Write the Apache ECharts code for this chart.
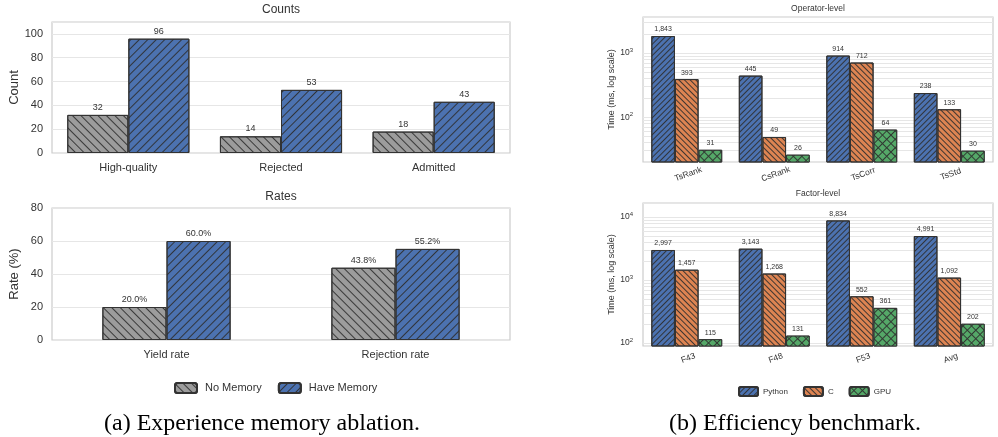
<!DOCTYPE html>
<html><head><meta charset="utf-8">
<script src="https://cdn.jsdelivr.net/npm/echarts@6/dist/echarts.min.js"></script>
<style>html,body{margin:0;padding:0;background:#fff}#c{width:998px;height:437px}</style>
</head><body><div id="c"></div>
<script>
// ---- data ----
const countCategories = ['High-quality', 'Rejected', 'Admitted'];
const countsNoMemory = [32, 14, 18];
const countsHaveMemory = [96, 53, 43];
const rateCategories = ['Yield rate', 'Rejection rate'];
const ratesNoMemory = [20.0, 43.8];
const ratesHaveMemory = [60.0, 55.2];
const operatorCategories = ['TsRank', 'CsRank', 'TsCorr', 'TsStd'];
const operatorPython = [1843, 445, 914, 238];
const operatorC = [393, 49, 712, 133];
const operatorGPU = [31, 26, 64, 30];
const factorCategories = ['F43', 'F48', 'F53', 'Avg'];
const factorPython = [2997, 3143, 8834, 4991];
const factorC = [1457, 1268, 552, 1092];
const factorGPU = [115, 131, 361, 202];
const countTicks = [0, 20, 40, 60, 80, 100];
const rateTicks = [0, 20, 40, 60, 80];
const operatorMinorTicks = [30, 40, 50, 60, 70, 80, 90, 200, 300, 400, 500, 600, 700, 800, 900, 2000, 3000];
const factorMinorTicks = [200, 300, 400, 500, 600, 700, 800, 900, 2000, 3000, 4000, 5000, 6000, 7000, 8000, 9000];

// ---- style ----
const FONT = 'Liberation Sans';
const TXT = '#333333';
const GRIDC = '#e6e6e6';
const FRAME = '#cccccc';
const C_GRAY = '#9c9c9c', C_BLUE = '#4c72b0', C_ORANGE = '#dd8452', C_GREEN = '#55a868';
const HATCH = 'rgba(45,45,45,0.9)';

function hatch(rot, period, w) {
  return { symbol: 'rect', symbolSize: 1, dashArrayX: [1, 0], dashArrayY: [w, period - w], rotation: rot, color: HATCH };
}
function cross(fill, period) {
  return { symbol: 'rect', symbolSize: 1, dashArrayX: [period - 1, 1], dashArrayY: [period - 1, 1], rotation: Math.PI / 4, color: fill, backgroundColor: HATCH };
}
const SLASH = -Math.PI / 4, BACK = Math.PI / 4;

function bar(name, data, idx, color, decal, fmt, fs, extra) {
  return Object.assign({
    name: name, type: 'bar', data: data, xAxisIndex: idx, yAxisIndex: idx, barGap: '0%',
    itemStyle: { color: color, borderColor: '#333', borderWidth: 1, decal: decal },
    label: { show: true, position: 'top', distance: 3, fontFamily: FONT, fontSize: fs, color: TXT, formatter: fmt },
    emphasis: { disabled: true }
  }, extra || {});
}
const fmtInt = p => String(p.value);
const fmtPct = p => p.value.toFixed(1) + '%';
const fmtK = p => Number(p.value).toLocaleString('en-US');

function minorLines(idx, ticks) {
  return {
    type: 'line', data: [], xAxisIndex: idx, yAxisIndex: idx, z: 1, silent: true,
    markLine: { silent: true, z: 1, symbol: 'none', animation: false, label: { show: false },
      lineStyle: { color: GRIDC, width: 1, type: 'solid' },
      data: ticks.map(v => ({ yAxis: v })) }
  };
}
function logLabel(v) {
  const e = Math.log10(v), r = Math.round(e);
  return Math.abs(e - r) < 1e-6 ? '10{s|' + r + '}' : '';
}

const grids = [
  { left: 52, top: 22, width: 458, height: 131 },
  { left: 52, top: 208, width: 458, height: 132 },
  { left: 643, top: 17, width: 350, height: 145 },
  { left: 643, top: 203, width: 350, height: 143 }
].map(g => Object.assign({ show: true, borderColor: FRAME, borderWidth: 1.2, backgroundColor: '#fff' }, g));

const leftX = (i, cats) => ({
  type: 'category', gridIndex: i, data: cats, axisLine: { show: false }, axisTick: { show: false },
  axisLabel: { fontFamily: FONT, fontSize: 11, color: TXT, margin: 9 }, splitLine: { show: false }
});
const rightX = (i, cats) => ({
  type: 'category', gridIndex: i, data: cats, axisLine: { show: false }, axisTick: { show: false },
  axisLabel: { fontFamily: FONT, fontSize: 8.5, color: TXT, margin: 8, rotate: 20, align: 'center', verticalAlign: 'top' },
  splitLine: { show: false }
});
const leftY = (i, name, ticks, max) => ({
  type: 'value', gridIndex: i, min: 0, max: max, interval: 20, name: name, nameLocation: 'middle', nameGap: 31,
  nameTextStyle: { fontFamily: FONT, fontSize: 13, color: TXT },
  axisLine: { show: false }, axisTick: { show: false },
  axisLabel: { fontFamily: FONT, fontSize: 11, color: TXT, margin: 9, formatter: v => ticks.indexOf(v) >= 0 ? String(v) : '' },
  splitLine: { lineStyle: { color: GRIDC, width: 1 } }
});
const rightY = (i, min, max) => ({
  type: 'log', logBase: 10, gridIndex: i, min: min, max: max, name: 'Time (ms, log scale)', nameLocation: 'middle', nameGap: 26,
  nameTextStyle: { fontFamily: FONT, fontSize: 9, color: TXT },
  axisLine: { show: false }, axisTick: { show: false },
  axisLabel: { fontFamily: FONT, fontSize: 8.5, color: TXT, margin: 10, formatter: logLabel,
    rich: { s: { fontFamily: FONT, fontSize: 6, color: TXT, padding: [0, 0, 5, 0] } } },
  splitLine: { lineStyle: { color: GRIDC, width: 1 } }
});

function txt(x, y, text, size, family, color) {
  return { type: 'text', x: x, y: y, silent: true,
    style: { text: text, fontSize: size, fontFamily: family || FONT, fill: color || TXT,
      textAlign: 'center', textVerticalAlign: 'middle', align: 'center', verticalAlign: 'middle' } };
}

const option = {
  animation: false,
  textStyle: { fontFamily: FONT },
  grid: grids,
  xAxis: [leftX(0, countCategories), leftX(1, rateCategories), rightX(2, operatorCategories), rightX(3, factorCategories)],
  yAxis: [leftY(0, 'Count', countTicks, 110), leftY(1, 'Rate (%)', rateTicks, 80), rightY(2, 20, 3650), rightY(3, 89.6, 16700)],
  legend: [
    { data: ['No Memory', 'Have Memory'], left: 174, top: 382, itemWidth: 22, itemHeight: 10, itemGap: 16, padding: 0,
      textStyle: { fontFamily: FONT, fontSize: 11, color: TXT, padding: [0, 0, 0, 3] }, selectedMode: false },
    { data: ['Python', 'C', 'GPU'], left: 738, top: 386, itemWidth: 19, itemHeight: 9, itemGap: 15, padding: 0,
      textStyle: { fontFamily: FONT, fontSize: 8, color: TXT }, selectedMode: false }
  ],
  graphic: [
    txt(281, 10, 'Counts', 12),
    txt(281, 197, 'Rates', 12),
    txt(818, 9, 'Operator-level', 8.5),
    txt(818, 194, 'Factor-level', 8.5),
    txt(262, 424, '(a) Experience memory ablation.', 24, 'Liberation Serif', '#000'),
    txt(795, 424, '(b) Efficiency benchmark.', 24, 'Liberation Serif', '#000')
  ],
  series: [
    bar('No Memory', countsNoMemory, 0, C_GRAY, hatch(BACK, 6, 1), fmtInt, 9),
    bar('Have Memory', countsHaveMemory, 0, C_BLUE, hatch(SLASH, 6, 1), fmtInt, 9, { barCategoryGap: '20%' }),
    bar('No Memory', ratesNoMemory, 1, C_GRAY, hatch(BACK, 6, 1), fmtPct, 9),
    bar('Have Memory', ratesHaveMemory, 1, C_BLUE, hatch(SLASH, 6, 1), fmtPct, 9, { barCategoryGap: '44%' }),
    minorLines(2, operatorMinorTicks),
    bar('Python', operatorPython, 2, C_BLUE, hatch(SLASH, 3.5, 0.9), fmtK, 7),
    bar('C', operatorC, 2, C_ORANGE, hatch(BACK, 3.5, 0.9), fmtK, 7),
    bar('GPU', operatorGPU, 2, C_GREEN, cross(C_GREEN, 5.7), fmtK, 7, { barCategoryGap: '19%' }),
    minorLines(3, factorMinorTicks),
    bar('Python', factorPython, 3, C_BLUE, hatch(SLASH, 3.5, 0.9), fmtK, 7),
    bar('C', factorC, 3, C_ORANGE, hatch(BACK, 3.5, 0.9), fmtK, 7),
    bar('GPU', factorGPU, 3, C_GREEN, cross(C_GREEN, 5.7), fmtK, 7, { barCategoryGap: '19%' })
  ]
};
const chart = echarts.init(document.getElementById('c'), null, { renderer: 'canvas' });
chart.setOption(option);
</script></body></html>
